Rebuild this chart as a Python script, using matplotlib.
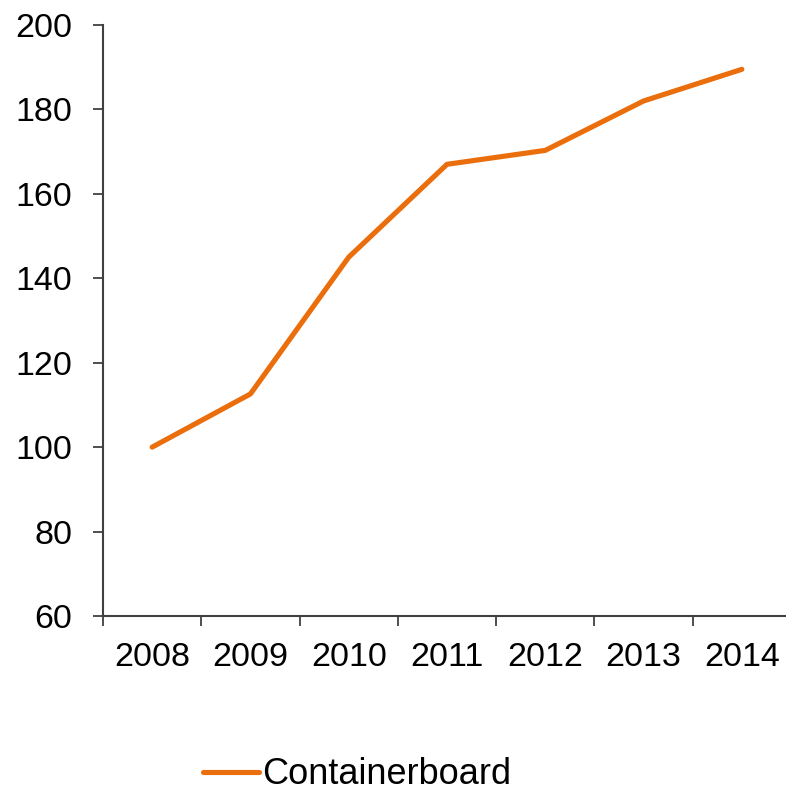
import matplotlib
matplotlib.use("Agg")
import matplotlib.pyplot as plt

# ----------------------------------------------------------------------

years = ["2008", "2009", "2010", "2011", "2012", "2013", "2014"]
containerboard = [100.0, 112.6, 145.0, 167.0, 170.3, 182.0, 189.5]

plt.rcParams["font.family"] = ["Liberation Sans", "DejaVu Sans"]

fig = plt.figure(figsize=(7.86, 7.93), dpi=100)
# axis runs off the right edge of the picture, as in the source
ax = fig.add_axes([103 / 786, 1 - 616 / 793, 688 / 786, 591 / 793])

x = list(range(len(years)))
line, = ax.plot(x, containerboard, color="#EB6E0D", linewidth=3.7,
                solid_capstyle="round", label="Containerboard")

ax.set_xlim(-0.5, len(years) - 0.5)
ax.set_ylim(60, 200)
ax.set_yticks(range(60, 201, 20))

# category labels centred, tick marks between categories
ax.set_xticks(x)
ax.set_xticklabels(years)
ax.set_xticks([i - 0.5 for i in range(len(years) + 1)], minor=True)
ax.tick_params(axis="x", which="major", length=0, pad=19, labelsize=24.5)
ax.tick_params(axis="x", which="minor", length=7, width=1.3,
               color="#404040", direction="out")
ax.tick_params(axis="y", length=7, width=1.3, color="#404040",
               direction="out", pad=15, labelsize=24.5)

for side in ("top", "right"):
    ax.spines[side].set_visible(False)
for side in ("left", "bottom"):
    ax.spines[side].set_color("#404040")
    ax.spines[side].set_linewidth(1.5)

fig.legend(handles=[line], loc="center", bbox_to_anchor=(357 / 786, 1 - 775 / 793),
           frameon=False, fontsize=26, handlelength=1.55, handletextpad=0.1)

fig.savefig("out.png", dpi=100)
